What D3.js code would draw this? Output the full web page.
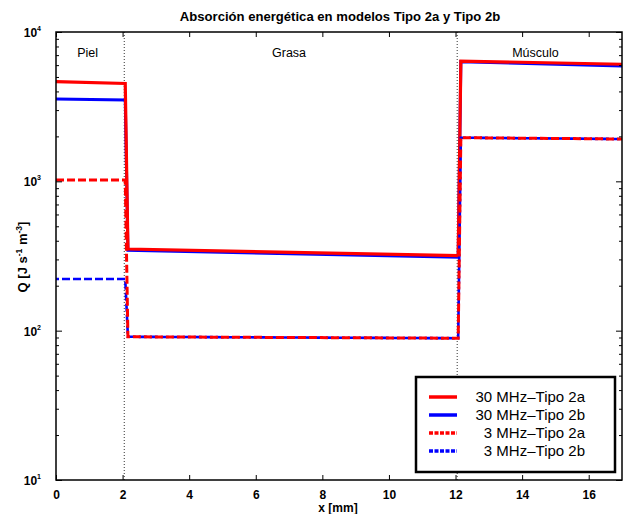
<!DOCTYPE html>
<html>
<head>
<meta charset="utf-8">
<script src="https://cdn.jsdelivr.net/npm/d3@7"></script>
<style>
  html, body { margin: 0; padding: 0; background: #fff; }
  svg { display: block; font-family: "Liberation Sans", Arial, sans-serif; }
</style>
</head>
<body>
<svg id="chart" width="624" height="514"></svg>
<script>
// Position along the tissue profile [mm]
const xPoints = [0, 2.08, 2.16, 12.08, 12.16, 17];

// Absorbed power density Q [J s^-1 m^-3] at each profile point
const q30Tipo2a = [4650, 4520, 352, 318, 6390, 6080];
const q30Tipo2b = [3560, 3510, 345, 310, 6330, 5920];
const q3Tipo2a  = [1020, 1020, 91, 89, 1960, 1920];
const q3Tipo2b  = [222, 222, 91, 89, 1960, 1920];

// Tissue layer boundaries and names
const boundaries = [2.05, 12.05];
const regionNames = ["Piel", "Grasa", "Músculo"];
const regionCenters = [0.95, 7.0, 14.4];

const xTicks = [0, 2, 4, 6, 8, 10, 12, 14, 16];
const yDecades = [1, 2, 3, 4];

const seriesNames = ["30 MHz\u2013Tipo 2a", "30 MHz\u2013Tipo 2b", "3 MHz\u2013Tipo 2a", "3 MHz\u2013Tipo 2b"];
const seriesColors = ["#ff0000", "#0000ff", "#ff0000", "#0000ff"];

const svg = d3.select("#chart");
const margin = { left: 56, top: 32, right: 622, bottom: 480 };

const x = d3.scaleLinear().domain([0, 17]).range([margin.left, margin.right]);
const y = d3.scaleLog().domain([10, 10000]).range([margin.bottom, margin.top]);

// Title
svg.append("text")
  .attr("x", (margin.left + margin.right) / 2 + 1)
  .attr("y", 21)
  .attr("text-anchor", "middle")
  .attr("font-size", 13.1)
  .attr("font-weight", "bold")
  .text("Absorción energética en modelos Tipo 2a y Tipo 2b");

// Layer boundaries (dotted)
svg.append("g").selectAll("line").data(boundaries).join("line")
  .attr("x1", d => x(d)).attr("x2", d => x(d))
  .attr("y1", margin.top).attr("y2", margin.bottom)
  .attr("stroke", "#333").attr("stroke-width", 1)
  .attr("stroke-dasharray", "1,2");

// Layer names
svg.append("g").selectAll("text").data(regionNames).join("text")
  .attr("x", (d, i) => x(regionCenters[i]))
  .attr("y", 57)
  .attr("text-anchor", "middle")
  .attr("font-size", 12.5)
  .text(d => d);

// Series lines
const line = d3.line()
  .x(d => x(d[0]))
  .y(d => y(d[1]))
  .curve(d3.curveLinear);

const pts = vals => xPoints.map((xv, i) => [xv, vals[i]]);

const plot = svg.append("g");
// solid: blue beneath red
plot.append("path").datum(pts(q30Tipo2b)).attr("d", line)
  .attr("fill", "none").attr("stroke", seriesColors[1]).attr("stroke-width", 3);
plot.append("path").datum(pts(q30Tipo2a)).attr("d", line)
  .attr("fill", "none").attr("stroke", seriesColors[0]).attr("stroke-width", 3.2);
// dashed: blue beneath red, showing through the gaps
plot.append("path").datum(pts(q3Tipo2b)).attr("d", line)
  .attr("fill", "none").attr("stroke", seriesColors[3]).attr("stroke-width", 2.6)
  .attr("stroke-dasharray", "8,3").attr("stroke-dashoffset", 5);
plot.append("path").datum(pts(q3Tipo2a)).attr("d", line)
  .attr("fill", "none").attr("stroke", seriesColors[2]).attr("stroke-width", 3)
  .attr("stroke-dasharray", "8,3");

// Axes frame
const axisG = svg.append("g");
axisG.append("rect")
  .attr("x", margin.left).attr("y", margin.top)
  .attr("width", margin.right - margin.left).attr("height", margin.bottom - margin.top)
  .attr("fill", "none").attr("stroke", "#000").attr("stroke-width", 1.5);

// x ticks, inward on bottom and top
const xAxisB = d3.axisBottom(x).tickValues(xTicks).tickSize(-5).tickPadding(10).tickFormat(d3.format("d"));
const gxB = svg.append("g").attr("transform", `translate(0,${margin.bottom})`).call(xAxisB);
gxB.select(".domain").remove();
gxB.selectAll("text").attr("font-size", 12).attr("font-weight", "bold")
  .attr("font-family", "Liberation Sans, Arial, sans-serif").attr("fill", "#000");
gxB.selectAll("line").attr("stroke", "#000");

const xAxisT = d3.axisTop(x).tickValues(xTicks).tickSize(-5).tickFormat("");
const gxT = svg.append("g").attr("transform", `translate(0,${margin.top})`).call(xAxisT);
gxT.select(".domain").remove();
gxT.selectAll("line").attr("stroke", "#000");

// y ticks: majors at decades, minors at 2..9
const minorTicks = [];
[10, 100, 1000].forEach(b => { for (let k = 2; k <= 9; k++) minorTicks.push(b * k); });
const majorTicks = yDecades.map(e => Math.pow(10, e));

[[d3.axisLeft, margin.left], [d3.axisRight, margin.right]].forEach(([ax, pos]) => {
  const gMin = svg.append("g").attr("transform", `translate(${pos},0)`)
    .call(ax(y).tickValues(minorTicks).tickSize(-3).tickFormat(""));
  gMin.select(".domain").remove();
  gMin.selectAll("line").attr("stroke", "#000");
  const gMaj = svg.append("g").attr("transform", `translate(${pos},0)`)
    .call(ax(y).tickValues(majorTicks).tickSize(-6).tickFormat(""));
  gMaj.select(".domain").remove();
  gMaj.selectAll("line").attr("stroke", "#000");
});

// y tick labels as 10 with superscript exponent
const yl = svg.append("g");
yDecades.forEach(e => {
  const t = yl.append("text")
    .attr("x", margin.left - 15)
    .attr("y", y(Math.pow(10, e)) + 5)
    .attr("text-anchor", "end")
    .attr("font-size", 12).attr("font-weight", "bold");
  t.append("tspan").text("10");
  t.append("tspan").attr("dy", -6).attr("font-size", 7).text(e);
});

// Axis titles
svg.append("text")
  .attr("x", (margin.left + margin.right) / 2 - 1)
  .attr("y", 512)
  .attr("text-anchor", "middle")
  .attr("font-size", 12).attr("font-weight", "bold")
  .text("x [mm]");

const ylab = svg.append("text")
  .attr("transform", `translate(27,257) rotate(-90)`)
  .attr("text-anchor", "middle")
  .attr("font-size", 13).attr("font-weight", "bold");
ylab.append("tspan").text("Q [J s");
ylab.append("tspan").attr("dy", -5).attr("font-size", 8.5).text("-1");
ylab.append("tspan").attr("dy", 5).text(" m");
ylab.append("tspan").attr("dy", -5).attr("font-size", 8.5).text("-3");
ylab.append("tspan").attr("dy", 5).text("]");

// Legend
const leg = svg.append("g");
leg.append("rect")
  .attr("x", 416).attr("y", 377).attr("width", 199).attr("height", 95)
  .attr("fill", "#fff").attr("stroke", "#000").attr("stroke-width", 2.5);
const legRows = [397, 415, 433, 451];
seriesNames.forEach((name, i) => {
  leg.append("line")
    .attr("x1", 429).attr("x2", 457)
    .attr("y1", legRows[i]).attr("y2", legRows[i])
    .attr("stroke", seriesColors[i]).attr("stroke-width", 3.5)
    .attr("stroke-dasharray", i >= 2 ? "4,1.5" : null);
  leg.append("text")
    .attr("x", 585).attr("y", legRows[i] + 5)
    .attr("text-anchor", "end")
    .attr("font-size", 15)
    .text(name);
});
</script>
</body>
</html>
